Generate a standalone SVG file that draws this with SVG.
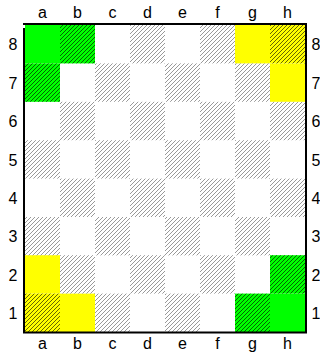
<svg xmlns="http://www.w3.org/2000/svg" width="320" height="353" viewBox="0 0 320 353">
<style>
text{font-family:"Liberation Sans",Arial,sans-serif;font-size:16px;fill:#000;text-anchor:middle}
.g{fill:#00ff00}.y{fill:#ffff00}
.h{fill:url(#hg)}.hd{fill:url(#hd)}
</style>
<defs>
<pattern id="hg" patternUnits="userSpaceOnUse" width="4" height="4">
<path d="M-1,1 L1,-1 M0,4 L4,0 M3,5 L5,3" stroke="#999" stroke-width="1"/>
</pattern>
<pattern id="hd" patternUnits="userSpaceOnUse" width="4" height="4">
<path d="M-1,1 L1,-1 M0,4 L4,0 M3,5 L5,3" stroke="#000" stroke-opacity="0.6" stroke-width="1"/>
</pattern>
</defs>
<g id="squares">
<rect class="g" x="25" y="25" width="35" height="38.4"/>
<rect class="g" x="60" y="25" width="35" height="38.4"/>
<rect class="g" x="25" y="63.4" width="35" height="38.4"/>
<rect class="y" x="235" y="25" width="35" height="38.4"/>
<rect class="y" x="270" y="25" width="35" height="38.4"/>
<rect class="y" x="270" y="63.4" width="35" height="38.4"/>
<rect class="y" x="25" y="255.2" width="35" height="38.4"/>
<rect class="y" x="25" y="293.6" width="35" height="38.4"/>
<rect class="y" x="60" y="293.6" width="35" height="38.4"/>
<rect class="g" x="270" y="255.2" width="35" height="38.4"/>
<rect class="g" x="235" y="293.6" width="35" height="38.4"/>
<rect class="g" x="270" y="293.6" width="35" height="38.4"/>
</g>
<g id="hatch">
<rect class="hd" x="60" y="25" width="35" height="38.4"/>
<rect class="h" x="130" y="25" width="35" height="38.4"/>
<rect class="h" x="200" y="25" width="35" height="38.4"/>
<rect class="hd" x="270" y="25" width="35" height="38.4"/>
<rect class="hd" x="25" y="63.4" width="35" height="38.4"/>
<rect class="h" x="95" y="63.4" width="35" height="38.4"/>
<rect class="h" x="165" y="63.4" width="35" height="38.4"/>
<rect class="h" x="235" y="63.4" width="35" height="38.4"/>
<rect class="h" x="60" y="101.8" width="35" height="38.4"/>
<rect class="h" x="130" y="101.8" width="35" height="38.4"/>
<rect class="h" x="200" y="101.8" width="35" height="38.4"/>
<rect class="h" x="270" y="101.8" width="35" height="38.4"/>
<rect class="h" x="25" y="140.2" width="35" height="38.4"/>
<rect class="h" x="95" y="140.2" width="35" height="38.4"/>
<rect class="h" x="165" y="140.2" width="35" height="38.4"/>
<rect class="h" x="235" y="140.2" width="35" height="38.4"/>
<rect class="h" x="60" y="178.6" width="35" height="38.4"/>
<rect class="h" x="130" y="178.6" width="35" height="38.4"/>
<rect class="h" x="200" y="178.6" width="35" height="38.4"/>
<rect class="h" x="270" y="178.6" width="35" height="38.4"/>
<rect class="h" x="25" y="217" width="35" height="38.4"/>
<rect class="h" x="95" y="217" width="35" height="38.4"/>
<rect class="h" x="165" y="217" width="35" height="38.4"/>
<rect class="h" x="235" y="217" width="35" height="38.4"/>
<rect class="h" x="60" y="255.2" width="35" height="38.4"/>
<rect class="h" x="130" y="255.2" width="35" height="38.4"/>
<rect class="h" x="200" y="255.2" width="35" height="38.4"/>
<rect class="hd" x="270" y="255.2" width="35" height="38.4"/>
<rect class="hd" x="25" y="293.6" width="35" height="38.4"/>
<rect class="h" x="95" y="293.6" width="35" height="38.4"/>
<rect class="h" x="165" y="293.6" width="35" height="38.4"/>
<rect class="hd" x="235" y="293.6" width="35" height="38.4"/>
</g>
<g id="frame" stroke="#000" fill="none">
<line x1="23" y1="24" x2="307" y2="24" stroke-width="2"/>
<line x1="23" y1="332.5" x2="307" y2="332.5" stroke-width="2"/>
<line x1="24" y1="28" x2="24" y2="332" stroke-width="2"/>
<line x1="306" y1="24" x2="306" y2="332" stroke-width="2"/>
</g>
<g id="labels">
<text x="42.5" y="18">a</text><text x="77.5" y="18">b</text><text x="112.5" y="18">c</text><text x="147.5" y="18">d</text>
<text x="182.5" y="18">e</text><text x="217.5" y="18">f</text><text x="252.5" y="18">g</text><text x="287.5" y="18">h</text>
<text x="42.5" y="349">a</text><text x="77.5" y="349">b</text><text x="112.5" y="349">c</text><text x="147.5" y="349">d</text>
<text x="182.5" y="349">e</text><text x="217.5" y="349">f</text><text x="252.5" y="349">g</text><text x="287.5" y="349">h</text>
<text x="13" y="50">8</text><text x="13" y="88.5">7</text><text x="13" y="127">6</text><text x="13" y="165.5">5</text>
<text x="13" y="204">4</text><text x="13" y="242">3</text><text x="13" y="281">2</text><text x="13" y="319">1</text>
<text x="316" y="50">8</text><text x="316" y="88.5">7</text><text x="316" y="127">6</text><text x="316" y="165.5">5</text>
<text x="316" y="204">4</text><text x="316" y="242">3</text><text x="316" y="281">2</text><text x="316" y="319">1</text>
</g>
</svg>
